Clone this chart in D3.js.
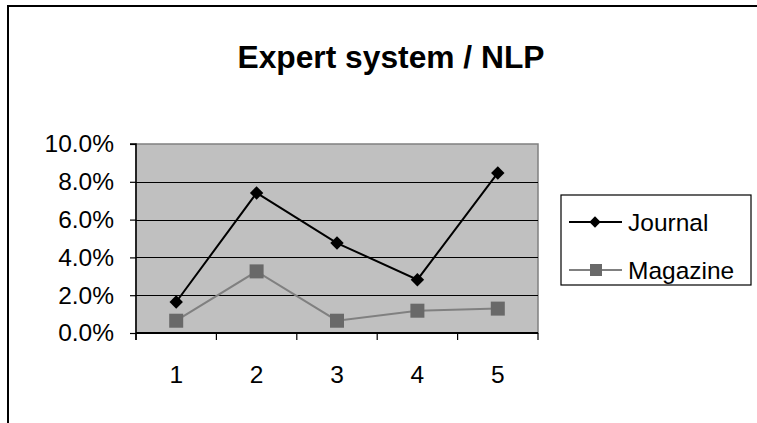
<!DOCTYPE html>
<html>
<head>
<meta charset="utf-8">
<script src="https://cdn.jsdelivr.net/npm/d3@7"></script>
<style>
  html, body { margin: 0; padding: 0; background: #fff; }
  svg { display: block; font-family: "Liberation Sans", Arial, sans-serif; }
</style>
</head>
<body>
<svg id="chart" width="757" height="423"></svg>
<script>
// Chart data
const categories = ["1", "2", "3", "4", "5"];
const journal = [0.0164, 0.0741, 0.0476, 0.0282, 0.0847];
const magazine = [0.0065, 0.0326, 0.0065, 0.0118, 0.0129];
const yTicks = [0, 0.02, 0.04, 0.06, 0.08, 0.10];
const seriesNames = ["Journal", "Magazine"];
const title = "Expert system / NLP";

const svg = d3.select("#chart");

// Outer chart frame (extends past right and bottom edges)
svg.append("rect")
  .attr("x", 8).attr("y", 6)
  .attr("width", 760).attr("height", 430)
  .attr("fill", "#fff").attr("stroke", "#000").attr("stroke-width", 2);

// Title
svg.append("text")
  .attr("x", 391).attr("y", 68)
  .attr("text-anchor", "middle")
  .attr("font-size", 31).attr("font-weight", "bold")
  .attr("textLength", 307).attr("lengthAdjust", "spacingAndGlyphs")
  .text(title);

// Plot area
const plot = { left: 136, top: 144, right: 538, bottom: 333 };

const x = d3.scaleBand().domain(categories).range([plot.left, plot.right]);
const y = d3.scaleLinear().domain([0, 0.10]).range([plot.bottom, plot.top]);

svg.append("rect")
  .attr("x", plot.left).attr("y", plot.top)
  .attr("width", plot.right - plot.left).attr("height", plot.bottom - plot.top)
  .attr("fill", "#c0c0c0").attr("stroke", "#808080").attr("stroke-width", 1.5);

// Horizontal gridlines
svg.append("g").selectAll("line")
  .data(yTicks.filter(d => d > 0 && d < 0.10))
  .join("line")
  .attr("x1", plot.left).attr("x2", plot.right)
  .attr("y1", d => Math.round(y(d)) + 0.5).attr("y2", d => Math.round(y(d)) + 0.5)
  .attr("stroke", "#000").attr("stroke-width", 1.2);

// Y axis
const yAxis = d3.axisLeft(y)
  .tickValues(yTicks)
  .tickFormat(d3.format(".1%"))
  .tickSize(6).tickPadding(16);
const gy = svg.append("g").attr("transform", `translate(${plot.left},0)`).call(yAxis);
gy.select(".domain").attr("stroke", "#000").attr("stroke-width", 1.5)
  .attr("d", `M-6,${plot.top}H0V${plot.bottom + 7}`);
gy.selectAll(".tick line").attr("stroke", "#000").attr("stroke-width", 1.2);
gy.selectAll(".tick text").attr("font-size", 24.5).attr("fill", "#000")
  .attr("font-family", "Liberation Sans, Arial, sans-serif");

// X axis
const xAxis = d3.axisBottom(x).tickSize(0).tickPadding(33);
const gx = svg.append("g").attr("transform", `translate(0,${plot.bottom})`).call(xAxis);
gx.select(".domain").attr("stroke", "#000").attr("stroke-width", 2)
  .attr("d", `M${plot.left},0H${plot.right}`);
gx.selectAll(".tick text").attr("font-size", 24.5).attr("fill", "#000")
  .attr("font-family", "Liberation Sans, Arial, sans-serif");
// Category boundary ticks
const bounds = categories.map(c => x(c)).concat([plot.right]);
gx.append("g").selectAll("line").data(bounds).join("line")
  .attr("x1", d => d).attr("x2", d => d)
  .attr("y1", 0).attr("y2", 7)
  .attr("stroke", "#000").attr("stroke-width", 1.2);

const cx = c => x(c) + x.bandwidth() / 2;
const line = d3.line().x((d, i) => cx(categories[i])).y(d => y(d));

// Magazine series
svg.append("path").datum(magazine)
  .attr("d", line).attr("fill", "none")
  .attr("stroke", "#808080").attr("stroke-width", 2);
svg.append("g").selectAll("rect").data(magazine).join("rect")
  .attr("x", (d, i) => cx(categories[i]) - 7)
  .attr("y", d => y(d) - 7)
  .attr("width", 14).attr("height", 14)
  .attr("fill", "#696969");

// Journal series
svg.append("path").datum(journal)
  .attr("d", line).attr("fill", "none")
  .attr("stroke", "#000").attr("stroke-width", 2);
const diamond = d3.symbol().type(d3.symbolDiamond2).size(110);
svg.append("g").selectAll("path").data(journal).join("path")
  .attr("transform", (d, i) => `translate(${cx(categories[i])},${y(d)}) rotate(45)`)
  .attr("d", d3.symbol().type(d3.symbolSquare).size(90))
  .attr("fill", "#000");

// Legend
const lg = svg.append("g");
lg.append("rect")
  .attr("x", 561).attr("y", 195).attr("width", 190).attr("height", 90)
  .attr("fill", "#fff").attr("stroke", "#000").attr("stroke-width", 1.2);
const legendRows = [
  { name: seriesNames[0], y: 222, color: "#000", marker: "diamond" },
  { name: seriesNames[1], y: 270, color: "#808080", marker: "square" }
];
legendRows.forEach(r => {
  lg.append("line")
    .attr("x1", 569).attr("x2", 622).attr("y1", r.y).attr("y2", r.y)
    .attr("stroke", r.color).attr("stroke-width", 2);
  if (r.marker === "diamond") {
    lg.append("path")
      .attr("transform", `translate(595,${r.y}) rotate(45)`)
      .attr("d", d3.symbol().type(d3.symbolSquare).size(64))
      .attr("fill", "#000");
  } else {
    lg.append("rect")
      .attr("x", 590).attr("y", r.y - 6).attr("width", 12).attr("height", 12)
      .attr("fill", "#696969");
  }
  lg.append("text")
    .attr("x", 628).attr("y", r.y + 9)
    .attr("font-size", 24.5).attr("fill", "#000")
    .text(r.name);
});
</script>
</body>
</html>
